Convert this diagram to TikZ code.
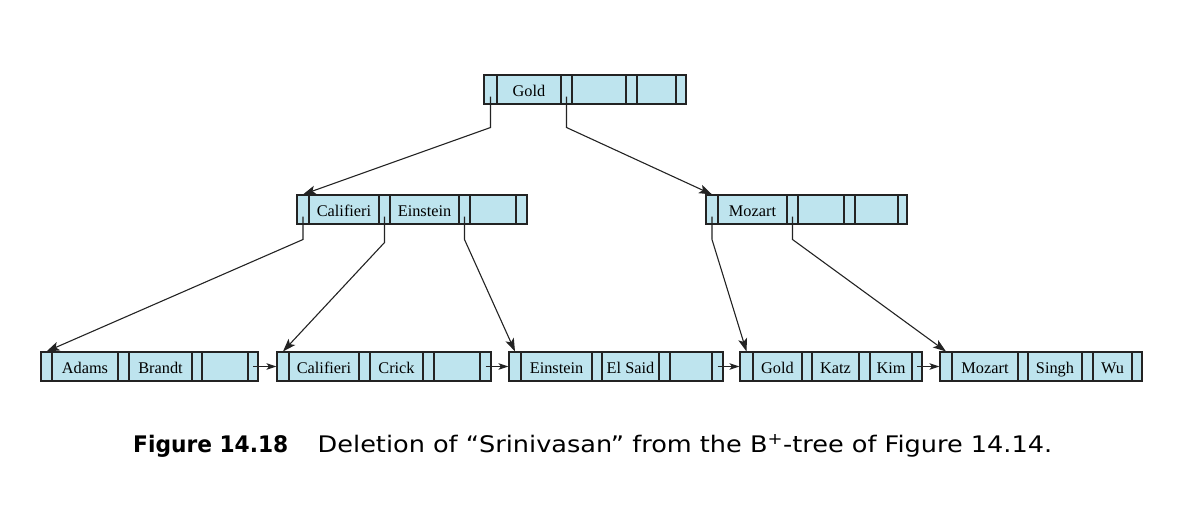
\documentclass[tikz,border=0pt]{standalone}
\usepackage{fontspec}
\usepackage{graphicx}
\setmainfont{Liberation Serif}
\newfontfamily\capfont{DejaVu Sans}
\usetikzlibrary{arrows.meta}
\definecolor{cellblue}{RGB}{190,228,238}
\definecolor{edgecol}{RGB}{35,35,35}
\tikzset{
  cell/.style={draw=edgecol, fill=cellblue, line width=1.1pt, inner sep=0pt,
    minimum height=29pt, text height=15.5pt, text depth=1pt,
    font=\fontsize{16.3}{18}\selectfont, anchor=center},
  ptr/.style={draw=edgecol, line width=1.1pt, -{Stealth[length=13pt,width=9pt,inset=3pt]}},
  sib/.style={draw=edgecol, line width=1.1pt, -{Stealth[length=10pt,width=6.5pt,inset=2.5pt]}},
}
\newcommand\brec[3]{%
  \foreach \i/\xa/\xb/\t in {#3} {
    \pgfmathsetmacro\cw{\xb-\xa}
    \pgfmathsetmacro\cx{(\xa+\xb)/2}
    \node[cell, minimum width=\cw pt] (#1\i) at (\cx,#2) {\t};
  }}
\begin{document}
\begin{tikzpicture}[x=1pt,y=-1pt]
\useasboundingbox (0,0) rectangle (1191,515);
% root
\brec{r}{89.5}{0/484/497/{},1/497/561/Gold,2/561/572/{},3/572/626/{},4/626/637/{},5/637/676/{},6/676/686/{}}
% internal nodes
\brec{a}{209.5}{0/297/309/{},1/309/379/Califieri,2/379/390/{},3/390/459/Einstein,4/459/470/{},5/470/516/{},6/516/527/{}}
\brec{b}{209.5}{0/706/718/{},1/718/787/Mozart,2/787/798/{},3/798/844/{},4/844/855/{},5/855/898/{},6/898/907/{}}
% leaves
\brec{la}{366.5}{0/41/52/{},1/52/118/Adams,2/118/129/{},3/129/192/Brandt,4/192/202/{},5/202/248/{},6/248/258/{}}
\brec{lb}{366.5}{0/277/289/{},1/289/359/Califieri,2/359/370/{},3/370/423/Crick,4/423/434/{},5/434/480/{},6/480/491/{}}
\brec{lc}{366.5}{0/509/521/{},1/521/592/Einstein,2/592/602/{},3/602/659/El Said,4/659/670/{},5/670/712/{},6/712/723/{}}
\brec{ld}{366.5}{0/740/753/{},1/753/802/Gold,2/802/812/{},3/812/859/Katz,4/859/870/{},5/870/912/Kim,6/912/922/{}}
\brec{le}{366.5}{0/940/952/{},1/952/1018/Mozart,2/1018/1028/{},3/1028/1082/Singh,4/1082/1093/{},5/1093/1132/Wu,6/1132/1142/{}}
% tree pointers
\draw[ptr] ([yshift=-7pt]r0.center) -- ++(0,31) -- (a0.north);
\draw[ptr] ([yshift=-7pt]r2.center) -- ++(0,31) -- (b0.north);
\draw[ptr] ([yshift=-7pt]a0.center) -- ++(0,23) -- (la0.north);
\draw[ptr] ([yshift=-7pt]a2.center) -- ++(0,26) -- (lb0.north);
\draw[ptr] ([yshift=-7pt]a4.center) -- ++(0,23) -- (lc0.north);
\draw[ptr] ([yshift=-7pt]b0.center) -- ++(0,23) -- (ld0.north);
\draw[ptr] ([yshift=-7pt]b2.center) -- ++(0,23) -- (le0.north);
% sibling pointers
\draw[sib] (la6.center) -- (lb0.west);
\draw[sib] (lb6.center) -- (lc0.west);
\draw[sib] (lc6.center) -- (ld0.west);
\draw[sib] (ld6.center) -- (le0.west);
% caption
\node[anchor=base west, inner sep=0pt] (cap) at (133,452)
  {\resizebox{919pt}{\height}{\capfont\fontsize{22.8}{26}\selectfont\scalebox{0.85}[1]{\textbf{Figure 14.18}}\hspace{1.15em}Deletion of “Srinivasan” from the B\textsuperscript{+}-tree of Figure 14.14.}};
\end{tikzpicture}
\end{document}
